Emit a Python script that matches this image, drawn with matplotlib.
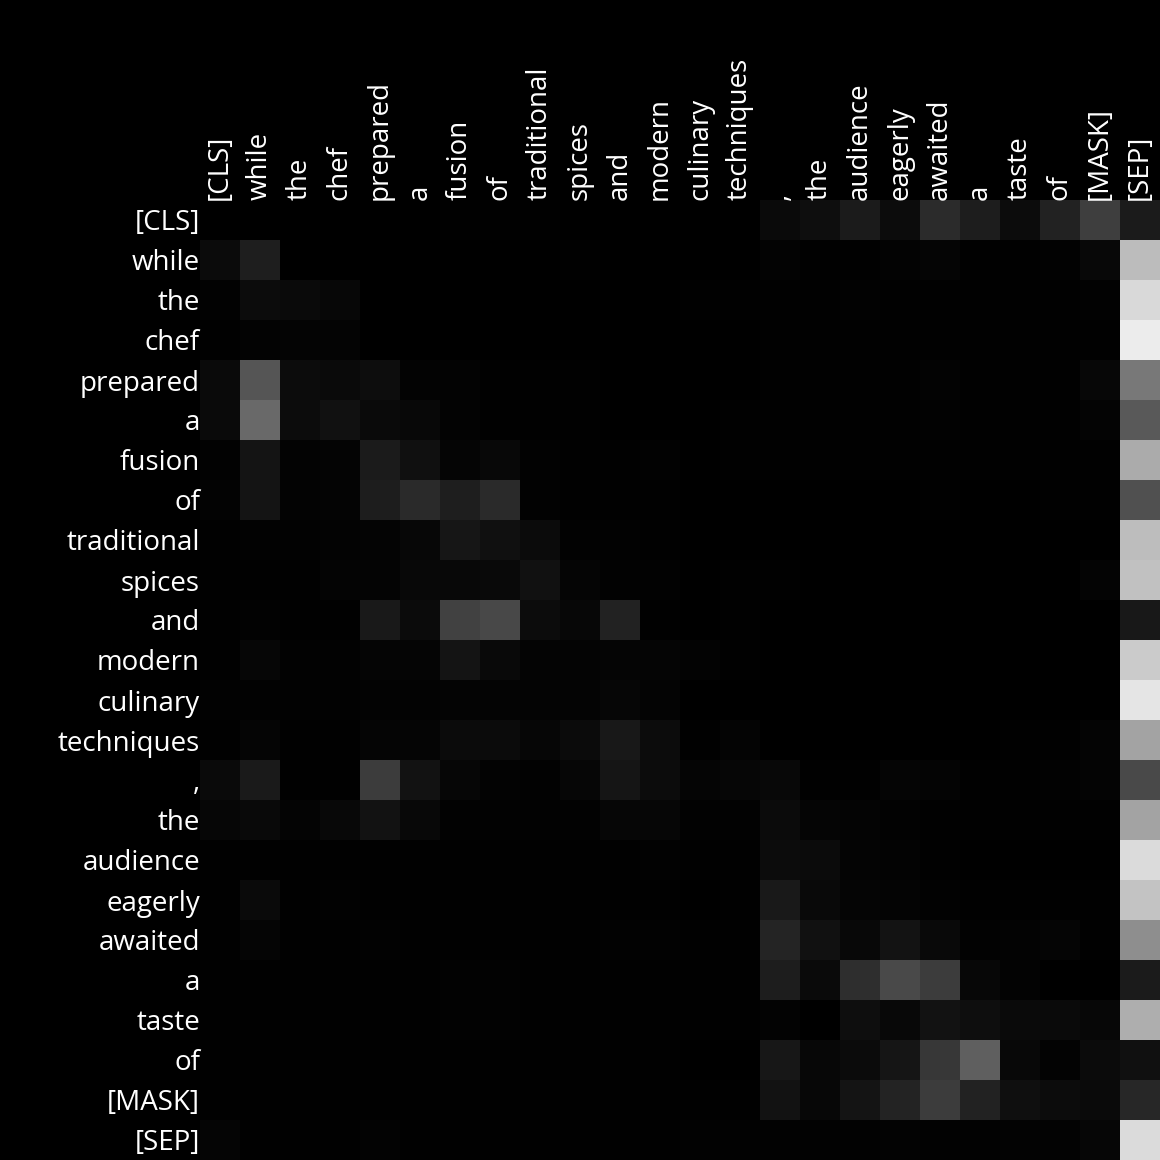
import numpy as np
import matplotlib
matplotlib.use('Agg')
import matplotlib.pyplot as plt

tokens = ['[CLS]', 'while', 'the', 'chef', 'prepared', 'a', 'fusion', 'of',
          'traditional', 'spices', 'and', 'modern', 'culinary', 'techniques',
          ',', 'the', 'audience', 'eagerly', 'awaited', 'a', 'taste', 'of',
          '[MASK]', '[SEP]']

# attention weights (0..255)
attn = [
    [0, 0, 0, 0, 0, 0, 1, 1, 1, 0, 0, 0, 0, 0, 10, 14, 27, 12, 43, 29, 12, 34, 62, 27],
    [11, 30, 0, 0, 0, 0, 0, 0, 0, 1, 0, 0, 0, 0, 3, 1, 1, 3, 5, 1, 1, 2, 8, 188],
    [2, 12, 10, 7, 0, 0, 0, 0, 0, 0, 0, 0, 1, 1, 1, 1, 2, 1, 1, 1, 1, 1, 2, 217],
    [1, 3, 4, 4, 0, 0, 0, 0, 0, 0, 0, 0, 0, 0, 1, 1, 1, 1, 1, 1, 1, 1, 1, 236],
    [10, 85, 12, 10, 13, 3, 3, 1, 1, 1, 0, 0, 0, 0, 1, 1, 1, 1, 3, 1, 1, 1, 7, 120],
    [10, 106, 12, 17, 10, 8, 3, 1, 1, 1, 0, 0, 0, 1, 1, 1, 1, 1, 2, 1, 1, 1, 4, 90],
    [2, 20, 3, 4, 27, 16, 5, 8, 2, 1, 1, 2, 0, 1, 1, 1, 1, 1, 1, 1, 1, 1, 1, 171],
    [3, 20, 3, 4, 29, 42, 30, 42, 2, 1, 1, 1, 0, 0, 0, 0, 0, 0, 1, 0, 0, 1, 1, 80],
    [1, 2, 2, 3, 4, 7, 22, 16, 11, 2, 2, 1, 0, 0, 0, 0, 0, 0, 0, 0, 0, 0, 0, 189],
    [1, 1, 1, 4, 4, 8, 8, 9, 17, 5, 2, 2, 0, 1, 1, 0, 0, 0, 0, 0, 0, 0, 4, 193],
    [1, 2, 1, 1, 25, 11, 66, 72, 12, 7, 34, 1, 0, 1, 0, 0, 0, 0, 0, 0, 0, 0, 0, 24],
    [1, 6, 2, 2, 5, 5, 20, 9, 4, 4, 5, 5, 3, 1, 0, 0, 0, 0, 0, 0, 0, 0, 0, 203],
    [2, 2, 2, 2, 3, 3, 4, 4, 4, 4, 6, 4, 0, 0, 0, 0, 0, 0, 0, 0, 0, 0, 0, 229],
    [1, 5, 1, 1, 5, 5, 11, 11, 6, 11, 24, 12, 1, 4, 0, 0, 0, 0, 0, 0, 1, 1, 4, 163],
    [10, 26, 1, 1, 61, 18, 6, 3, 2, 6, 21, 12, 5, 6, 8, 1, 1, 5, 4, 1, 1, 2, 4, 74],
    [6, 9, 4, 8, 18, 8, 2, 2, 2, 2, 6, 6, 2, 2, 11, 5, 4, 2, 1, 1, 1, 1, 1, 164],
    [1, 1, 1, 1, 1, 1, 1, 1, 1, 1, 1, 2, 1, 1, 12, 11, 4, 3, 1, 0, 0, 0, 0, 219],
    [1, 10, 1, 2, 1, 1, 1, 1, 1, 1, 1, 1, 0, 1, 25, 9, 5, 4, 2, 1, 1, 1, 1, 196],
    [1, 5, 1, 1, 2, 1, 1, 1, 1, 1, 2, 2, 1, 1, 36, 17, 8, 19, 9, 2, 3, 5, 1, 142],
    [1, 1, 1, 1, 1, 1, 2, 2, 1, 1, 1, 1, 1, 1, 29, 10, 46, 74, 61, 7, 3, 0, 0, 27],
    [1, 1, 1, 1, 1, 1, 2, 2, 1, 1, 1, 1, 1, 1, 3, 0, 14, 8, 18, 14, 10, 10, 7, 174],
    [1, 1, 1, 1, 1, 1, 1, 1, 1, 1, 1, 1, 0, 0, 23, 7, 11, 21, 55, 95, 8, 3, 11, 16],
    [1, 1, 1, 1, 1, 1, 1, 1, 1, 1, 1, 1, 1, 1, 18, 7, 20, 35, 61, 34, 15, 12, 10, 39],
    [5, 1, 1, 1, 3, 1, 1, 1, 1, 1, 1, 1, 2, 2, 2, 2, 2, 3, 2, 2, 3, 3, 6, 219],
]

data = np.array(attn) / 255.0

plt.rcParams['font.family'] = ['Open Sans', 'DejaVu Sans']

fig = plt.figure(figsize=(11.6, 11.6), dpi=100, facecolor='black')
ax = fig.add_axes([200 / 1160, 0, 960 / 1160, 960 / 1160])
ax.imshow(data, cmap='gray', vmin=0, vmax=1, aspect='auto', interpolation='nearest')

n = len(tokens)
ax.set_xticks(range(n))
ax.set_yticks(range(n))
ax.set_xticklabels(tokens, rotation=90, fontsize=20, color='white')
ax.set_yticklabels(tokens, fontsize=20, color='white')
ax.xaxis.tick_top()
ax.tick_params(length=0, pad=0)
for s in ax.spines.values():
    s.set_visible(False)

fig.savefig('out.png', dpi=100, facecolor='black')
